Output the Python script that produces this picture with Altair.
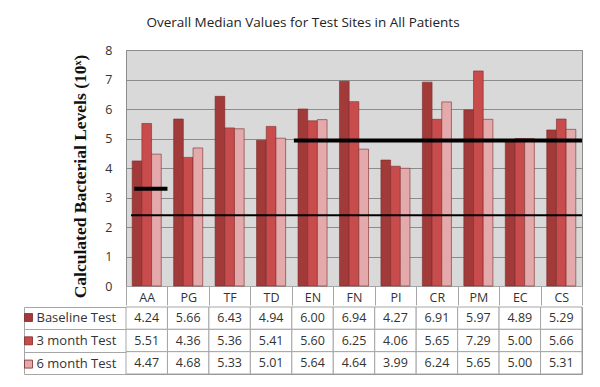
import altair as alt
import pandas as pd

categories = ["AA", "PG", "TF", "TD", "EN", "FN", "PI", "CR", "PM", "EC", "CS"]
series = ["Baseline Test", "3 month Test", "6 month Test"]
baseline = [4.24, 5.66, 6.43, 4.94, 6.00, 6.94, 4.27, 6.91, 5.97, 4.89, 5.29]
month3 = [5.51, 4.36, 5.36, 5.41, 5.60, 6.25, 4.06, 5.65, 7.29, 5.00, 5.66]
month6 = [4.47, 4.68, 5.33, 5.01, 5.64, 4.64, 3.99, 6.24, 5.65, 5.00, 5.31]
colors = ["#a23a3a", "#c94c4c", "#e3a9ab"]
y_ticks = [0, 1, 2, 3, 4, 5, 6, 7, 8]

# reference lines: level, first category, last category
ref_levels = [4.93, 3.3, 2.4]
ref_from = ["EN", "AA", "AA"]
ref_to = ["CS", "AA", "CS"]

rows = []
for s, vals in zip(series, [baseline, month3, month6]):
    for c, v in zip(categories, vals):
        rows.append({"cat": c, "series": s, "value": v, "label": f"{v:.2f}"})
df = pd.DataFrame(rows)

FONT = "Open Sans"
W = 456
xscale = alt.Scale(domain=categories, paddingInner=0, paddingOuter=0)
yscale = alt.Scale(domain=[0, 8], nice=False)
cscale = alt.Scale(domain=series, range=colors)

yaxis = alt.Axis(values=y_ticks, ticks=False, domain=False,
                 gridColor="#8c8c8c", gridWidth=1, labelPadding=14,
                 labelFont=FONT, labelFontSize=12.5, labelColor="#333333",
                 titleFont="Liberation Serif", titleFontSize=17.5, titleFontWeight="bold",
                 titleColor="#111111", titleBaseline="middle", titleAngle=270,
                 titleX=-46, titleY=126)
ytitle = "Calculated Bacterial Levels (10ˣ)"

bars = alt.Chart(df).mark_bar(stroke="#7d2a2a", strokeWidth=0.6).encode(
    x=alt.X("cat:N", scale=xscale, sort=categories, title=None,
            axis=alt.Axis(labelAngle=0, tickBand="extent", tickSize=19, tickColor="#a6a6a6",
                          domainColor="#a6a6a6", labelPadding=-8, labelBaseline="middle",
                          labelFont=FONT, labelFontSize=12.5, labelColor="#333333", grid=False)),
    xOffset=alt.XOffset("series:N", sort=series,
                        scale=alt.Scale(domain=series, paddingInner=0, paddingOuter=0.64)),
    y=alt.Y("value:Q", scale=yscale, title=ytitle, axis=yaxis),
    color=alt.Color("series:N", scale=cscale, legend=None),
)

def ref_rule(i, start_pos, width):
    d = pd.DataFrame({"y": [ref_levels[i]], "a": [ref_from[i]], "b": [ref_to[i]]})
    return alt.Chart(d).mark_rule(color="black", strokeWidth=width).encode(
        x=alt.X("a:N", scale=xscale, bandPosition=start_pos),
        x2=alt.X2("b", bandPosition=1),
        y=alt.Y("y:Q", scale=yscale, title=ytitle, axis=yaxis),
    )

top = alt.layer(
    bars,
    ref_rule(0, 0.05, 4),
    ref_rule(1, 0.2, 4),
    ref_rule(2, 0.12, 2),
).properties(width=W, height=236)

# data table below
rowscale = alt.Scale(domain=series, paddingInner=0, paddingOuter=0)
cells = alt.Chart(df).mark_rect(fill="white", stroke="#a6a6a6", strokeWidth=1).encode(
    x=alt.X("cat:N", scale=xscale, sort=categories, axis=None),
    y=alt.Y("series:N", sort=series, scale=rowscale, title=None,
            axis=alt.Axis(orient="left", tickBand="extent", tickSize=102, tickColor="#a6a6a6",
                          labels=False, domain=False, grid=False)),
)
texts = alt.Chart(df).mark_text(font=FONT, fontSize=12.5, color="#333333").encode(
    x=alt.X("cat:N", scale=xscale, sort=categories, axis=None),
    y=alt.Y("series:N", sort=series, scale=rowscale, title=None,
            axis=alt.Axis(orient="left", offset=102, ticks=False, labels=False,
                          domainColor="#a6a6a6", grid=False)),
    text="label:N",
)
keys = alt.Chart(df).mark_square(size=0, opacity=0).encode(
    x=alt.X("cat:N", scale=xscale, sort=categories, axis=None),
    y=alt.Y("series:N", sort=series, scale=rowscale, axis=None),
    color=alt.Color("series:N", scale=cscale,
                    legend=alt.Legend(orient="none", legendX=-104, legendY=4, title=None,
                                      symbolType="square", symbolSize=64, symbolOpacity=1,
                                      symbolStrokeColor="#7d2a2a", symbolStrokeWidth=0.8,
                                      labelFont=FONT, labelFontSize=13, labelColor="#333333",
                                      labelOffset=1.5, rowPadding=9.3, padding=0)),
)
bottom = alt.layer(cells, texts, keys).resolve_scale(y="independent").properties(width=W, height=67)

chart = alt.vconcat(top, bottom, spacing=0).resolve_scale(color="independent").properties(
    title=alt.Title("Overall Median Values for Test Sites in All Patients",
                    font=FONT, fontSize=13.5, fontWeight="normal", color="#222222",
                    anchor="middle", offset=14),
    padding={"left": 13, "top": 8, "right": 5, "bottom": 5},
    background="white",
).configure_view(fill="#d9d9d9", stroke="#8c8c8c").configure_concat(spacing=0)

chart.save("out.html", embed_options={"renderer": "svg", "actions": False})
